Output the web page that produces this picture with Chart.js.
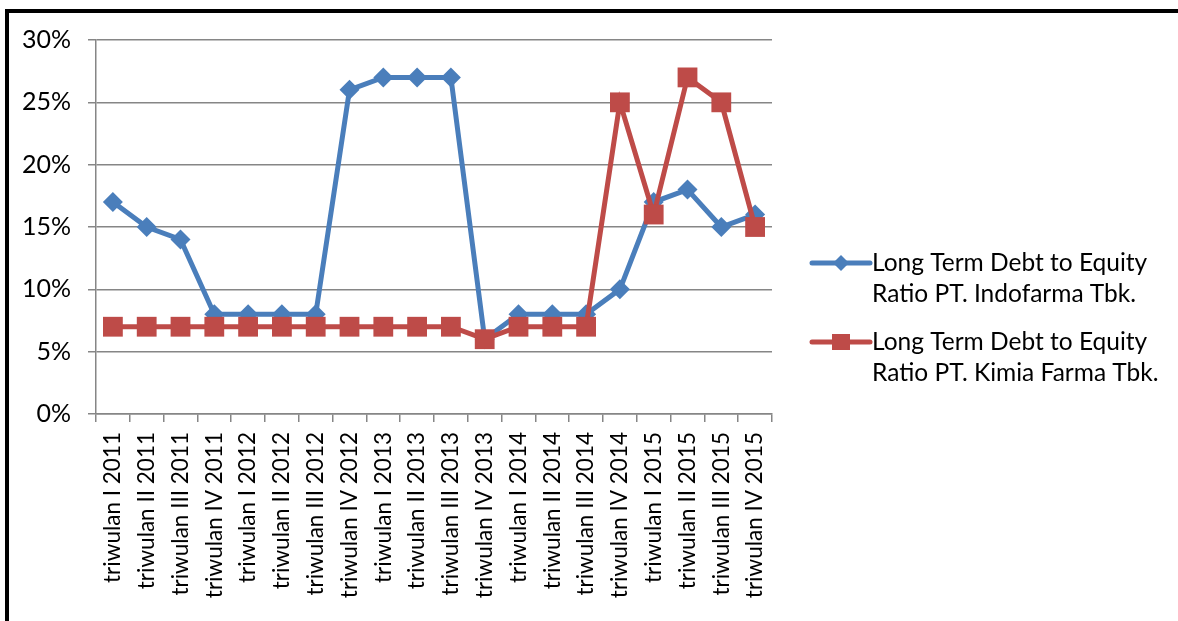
<!DOCTYPE html>
<html>
<head>
<meta charset="utf-8">
<script src="https://cdn.jsdelivr.net/npm/chart.js@4/dist/chart.umd.min.js"></script>
<style>
  html, body { margin: 0; padding: 0; background: #fff; }
  #wrap { position: relative; width: 1178px; height: 621px; overflow: hidden; }
  #frame {
    position: absolute; left: 5px; top: 9px; right: 0; bottom: 0;
    border-left: 4px solid #000; border-top: 4px solid #000;
    pointer-events: none;
  }
</style>
</head>
<body>
<div id="wrap">
  <canvas id="c" width="1178" height="621"></canvas>
  <div id="frame"></div>
</div>
<script>
// Quarterly periods on the category axis
const categories = [
  'triwulan I 2011', 'triwulan II 2011', 'triwulan III 2011', 'triwulan IV 2011',
  'triwulan I 2012', 'triwulan II 2012', 'triwulan III 2012', 'triwulan IV 2012',
  'triwulan I 2013', 'triwulan II 2013', 'triwulan III 2013', 'triwulan IV 2013',
  'triwulan I 2014', 'triwulan II 2014', 'triwulan III 2014', 'triwulan IV 2014',
  'triwulan I 2015', 'triwulan II 2015', 'triwulan III 2015', 'triwulan IV 2015'
];

// Long term debt to equity ratio, in percent
const indofarma  = [17, 15, 14, 8, 8, 8, 8, 26, 27, 27, 27, 6, 8, 8, 8, 10, 17, 18, 15, 16];
const kimiaFarma = [7, 7, 7, 7, 7, 7, 7, 7, 7, 7, 7, 6, 7, 7, 7, 25, 16, 27, 25, 15];

// Series names, split over two legend lines
const indofarmaName  = ['Long Term Debt to Equity', 'Ratio PT. Indofarma Tbk.'];
const kimiaFarmaName = ['Long Term Debt to Equity', 'Ratio PT. Kimia Farma Tbk.'];

// Value axis range
const yMin = 0, yMax = 30, yStep = 5;

const FONT = 'Lato, "Noto Sans", sans-serif';
const BLUE = '#4A7EBB';
const RED = '#BE4B48';
const GRID = '#868686';

// Legend drawn at the right, two lines per entry
const sideLegend = {
  id: 'sideLegend',
  afterDraw(chart) {
    const ctx = chart.ctx;
    const x0 = 812, x1 = 870, tx = 872;
    const rows = [263, 342];
    const lineH = 31;
    ctx.save();
    chart.data.datasets.forEach((ds, i) => {
      const y = rows[i];
      ctx.strokeStyle = ds.borderColor;
      ctx.lineWidth = 5;
      ctx.lineCap = 'round';
      ctx.beginPath();
      ctx.moveTo(x0, y);
      ctx.lineTo(x1, y);
      ctx.stroke();
      ctx.fillStyle = ds.backgroundColor;
      const mx = (x0 + x1) / 2;
      ctx.beginPath();
      if (ds.pointStyle === 'rectRot') {
        const r = 8;
        ctx.moveTo(mx - r, y); ctx.lineTo(mx, y - r);
        ctx.lineTo(mx + r, y); ctx.lineTo(mx, y + r);
        ctx.closePath();
      } else {
        ctx.rect(mx - 9, y - 8, 18, 16);
      }
      ctx.fill();
      ctx.fillStyle = '#000';
      ctx.font = '24.5px ' + FONT;
      ctx.textAlign = 'left';
      ctx.textBaseline = 'middle';
      ds.legendLines.forEach((t, k) => ctx.fillText(t, tx, y + k * lineH));
    });
    ctx.restore();
  }
};

new Chart(document.getElementById('c'), {
  type: 'line',
  data: {
    labels: categories,
    datasets: [
      {
        label: indofarmaName.join(' '),
        legendLines: indofarmaName,
        data: indofarma,
        borderColor: BLUE,
        backgroundColor: BLUE,
        borderWidth: 5,
        pointStyle: 'rectRot',
        pointRadius: 10,
        pointBorderWidth: 0,
        pointBackgroundColor: BLUE,
        tension: 0,
        order: 1
      },
      {
        label: kimiaFarmaName.join(' '),
        legendLines: kimiaFarmaName,
        data: kimiaFarma,
        borderColor: RED,
        backgroundColor: RED,
        borderWidth: 5,
        pointStyle: 'rect',
        pointRadius: 14,
        pointBorderWidth: 0,
        pointBackgroundColor: RED,
        tension: 0,
        order: 0
      }
    ]
  },
  options: {
    responsive: false,
    animation: false,
    events: [],
    layout: { padding: { top: 40, right: 406, left: 0, bottom: 0 } },
    plugins: { legend: { display: false }, tooltip: { enabled: false } },
    scales: {
      x: {
        offset: true,
        afterFit(scale) { scale.height = 207; },
        grid: {
          offset: true,
          drawOnChartArea: false,
          drawTicks: true,
          tickLength: 8,
          color: GRID,
          lineWidth: 1.5
        },
        border: { display: true, color: GRID, width: 1.5 },
        ticks: {
          autoSkip: false,
          maxRotation: 90,
          minRotation: 90,
          padding: 10,
          color: '#000',
          font: { family: FONT, size: 22.5 }
        }
      },
      y: {
        min: yMin,
        max: yMax,
        afterFit(scale) { scale.width = 96; },
        grid: {
          drawTicks: true,
          tickLength: 8,
          color: GRID,
          lineWidth: 1.5
        },
        border: { display: true, color: GRID, width: 1.5 },
        ticks: {
          stepSize: yStep,
          padding: 17,
          color: '#000',
          font: { family: FONT, size: 25 },
          callback: v => v + '%'
        }
      }
    }
  },
  plugins: [sideLegend]
});
</script>
</body>
</html>
